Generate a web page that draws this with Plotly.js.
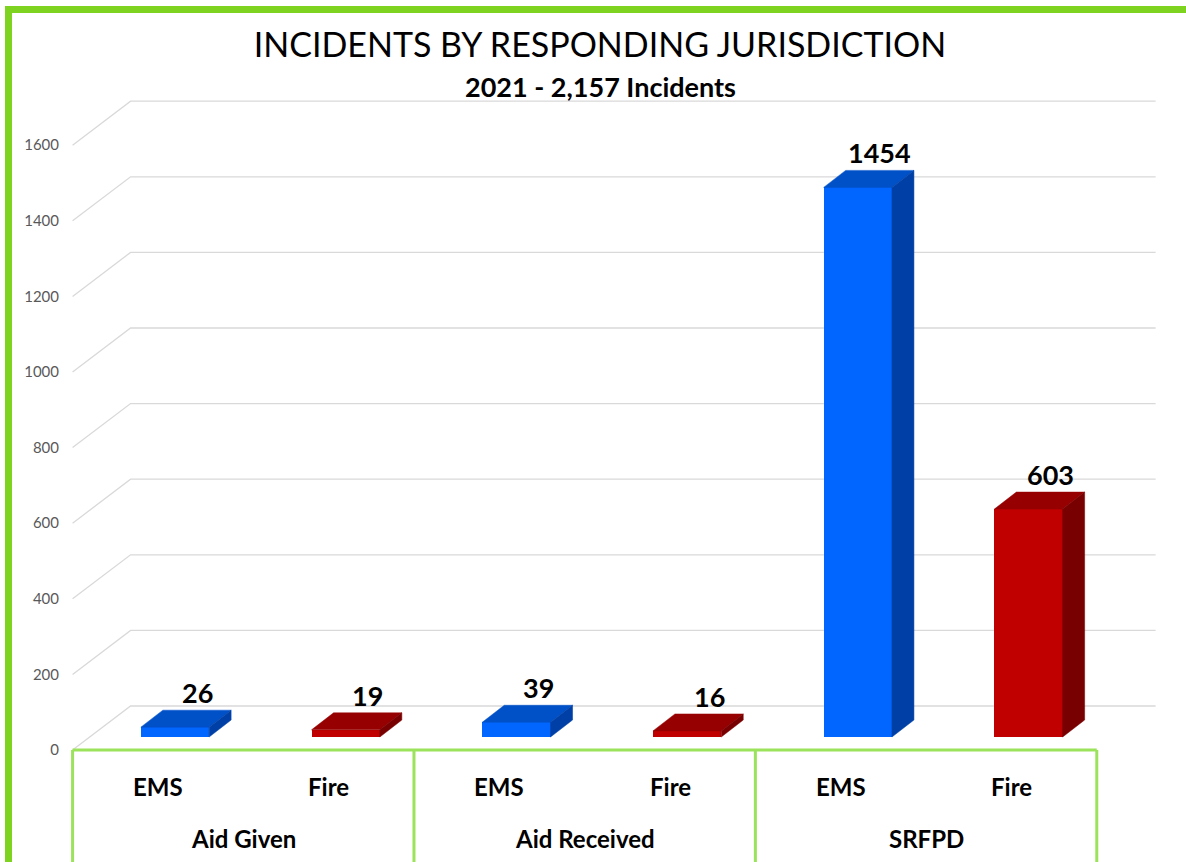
<!DOCTYPE html>
<html>
<head>
<meta charset="utf-8">
<script src="https://cdn.plot.ly/plotly-3.0.1.min.js"></script>
<style>
html,body{margin:0;padding:0;background:#fff;}
#chart{width:1186px;height:862px;}
</style>
</head>
<body>
<div id="chart"></div>
<script>
// ---- data ----
const groups = ['Aid Given', 'Aid Received', 'SRFPD'];
const types = ['EMS', 'Fire'];
const emsValues = [26, 39, 1454];
const fireValues = [19, 16, 603];
const yTicks = [0, 200, 400, 600, 800, 1000, 1200, 1400, 1600];
const titleText = 'INCIDENTS BY RESPONDING JURISDICTION';
const subtitleText = '2021 - 2,157 Incidents';

// ---- geometry (pseudo-3D) ----
const W = 1186, H = 862;
const pxPerCat = 170.7, pxPerUnit = 0.378;
const barCenterPx0 = 175, barBasePx = 737;
const barW = 0.4;
const depthX = 22 / pxPerCat, depthY = 17 / pxPerUnit;         // bar depth
const frontX = -17 / pxPerCat, frontY = -13 / pxPerUnit;       // label plane offset
const backY = 31 / pxPerUnit;                                  // back wall offset
const xRange = [-barCenterPx0 / pxPerCat, (W - barCenterPx0) / pxPerCat];
const yRange = [-(H - barBasePx) / pxPerUnit, barBasePx / pxPerUnit];
const labelBasePx = barBasePx + 13;
const y2Range = [-(H - labelBasePx) / pxPerUnit, labelBasePx / pxPerUnit];

const colors = {
  EMS: {front: '#0066FF', top: '#0050C8', side: '#0040A6'},
  Fire: {front: '#C00000', top: '#960000', side: '#780000'}
};

// flatten
const xs = [], vals = [], kinds = [];
groups.forEach((g, gi) => {
  xs.push(gi * 2); vals.push(emsValues[gi]); kinds.push(types[0]);
  xs.push(gi * 2 + 1); vals.push(fireValues[gi]); kinds.push(types[1]);
});

const traces = [];
// front faces
traces.push({
  type: 'bar', x: xs, y: vals, width: barW,
  marker: {color: kinds.map(k => colors[k].front), line: {width: 0}},
  hoverinfo: 'skip', showlegend: false
});
// top and side faces
xs.forEach((x, i) => {
  const v = vals[i], k = kinds[i];
  const x0 = x - barW / 2, x1 = x + barW / 2;
  traces.push({
    type: 'scatter', mode: 'lines', fill: 'toself', fillcolor: colors[k].top,
    line: {color: colors[k].top, width: 0.5},
    x: [x0, x1, x1 + depthX, x0 + depthX, x0],
    y: [v, v, v + depthY, v + depthY, v],
    hoverinfo: 'skip', showlegend: false
  });
  traces.push({
    type: 'scatter', mode: 'lines', fill: 'toself', fillcolor: colors[k].side,
    line: {color: colors[k].side, width: 0.5},
    x: [x1, x1, x1 + depthX, x1 + depthX, x1],
    y: [0, v, v + depthY, depthY, 0],
    hoverinfo: 'skip', showlegend: false
  });
});
// invisible trace for the tick-label axis
traces.push({type: 'scatter', x: [xRange[0]], y: [0], yaxis: 'y2', mode: 'markers',
  marker: {opacity: 0}, hoverinfo: 'skip', showlegend: false});

// gridlines (back wall + diagonal side wall)
const floorLeft = -0.6;
const backLeftX = floorLeft + (58 / pxPerCat);
const backRightX = 5.4 + (58 / pxPerCat) + 0.005;
const shapes = [];
yTicks.forEach(t => {
  shapes.push({type: 'path', layer: 'below', xref: 'x', yref: 'y',
    path: `M ${floorLeft},${t + frontY} L ${backLeftX},${t + backY} L ${backRightX},${t + backY}`,
    line: {color: '#D9D9D9', width: 1.3}});
});
// category boxes
const boxTop = 1 - 750 / H;
shapes.push({type: 'line', xref: 'x', yref: 'paper', x0: floorLeft, x1: floorLeft + 2 * groups.length, y0: boxTop, y1: boxTop,
  line: {color: '#9BE35A', width: 3}});
for (let g = 0; g <= groups.length; g++) {
  shapes.push({type: 'line', xref: 'x', yref: 'paper', x0: floorLeft + 2 * g, x1: floorLeft + 2 * g, y0: -0.05, y1: boxTop,
    line: {color: '#9BE35A', width: 3}});
}
// outer frame
shapes.push({type: 'rect', xref: 'paper', yref: 'paper', x0: 8.5 / W, x1: 1.05, y0: -0.05, y1: 1 - 9.5 / H,
  line: {color: '#7ED321', width: 7}, fillcolor: 'rgba(0,0,0,0)'});

const annotations = [];
// value labels
xs.forEach((x, i) => {
  annotations.push({xref: 'x', yref: 'y', x: x + depthX, y: vals[i] + depthY, text: String(vals[i]),
    showarrow: false, yanchor: 'bottom', yshift: -1,
    font: {family: 'Lato, sans-serif', size: 27, color: '#000', weight: 'bold'}});
});
// category labels
xs.forEach((x, i) => {
  annotations.push({xref: 'x', yref: 'paper', x: x + frontX, y: 1 - 786 / H, text: kinds[i],
    showarrow: false, yanchor: 'middle',
    font: {family: 'Lato, sans-serif', size: 24, color: '#000', weight: 'bold'}});
});
groups.forEach((g, gi) => {
  annotations.push({xref: 'x', yref: 'paper', x: floorLeft + 2 * gi + 1, y: 1 - 838 / H, text: g,
    showarrow: false, yanchor: 'middle',
    font: {family: 'Lato, sans-serif', size: 24, color: '#000', weight: 'bold'}});
});
// subtitle
annotations.push({xref: 'paper', yref: 'paper', x: 600 / W, y: 1 - 87 / H, text: subtitleText,
  showarrow: false, yanchor: 'middle',
  font: {family: 'Lato, sans-serif', size: 27, color: '#000', weight: 'bold'}});

const layout = {
  width: W, height: H,
  margin: {l: 0, r: 0, t: 0, b: 0, pad: 0},
  paper_bgcolor: '#fff', plot_bgcolor: '#fff',
  showlegend: false,
  title: {text: titleText, x: 600 / W, xanchor: 'center', y: 1 - 45 / H, yanchor: 'middle',
    font: {family: 'Lato, sans-serif', size: 34, color: '#000'}},
  xaxis: {range: xRange, visible: false, fixedrange: true},
  yaxis: {range: yRange, visible: false, fixedrange: true},
  yaxis2: {range: y2Range, overlaying: 'y', anchor: 'free', position: 72 / W, side: 'left',
    tickvals: yTicks, ticktext: yTicks.map(String), showgrid: false, zeroline: false, showline: false,
    ticks: '', ticklabelstandoff: 13,
    tickfont: {family: 'Lato, sans-serif', size: 15, color: '#595959'}, fixedrange: true},
  shapes: shapes,
  annotations: annotations,
  bargap: 0
};

Plotly.newPlot('chart', traces, layout, {displayModeBar: false, staticPlot: true});
</script>
</body>
</html>
